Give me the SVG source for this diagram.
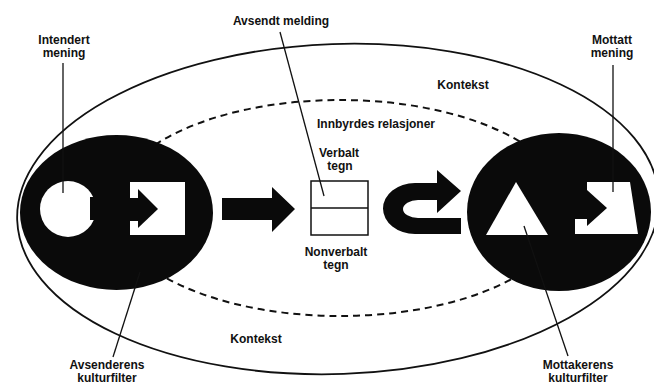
<svg xmlns="http://www.w3.org/2000/svg" width="654" height="387" viewBox="0 0 654 387">
<style>
.t{font-family:"Liberation Sans",Arial,sans-serif;font-weight:bold;font-size:12px;fill:#111;text-anchor:middle}
.ln{stroke:#111;stroke-width:1.3;fill:none}
.blk{fill:#0a0a0a}
.wht{fill:#fff}
</style>
<rect width="654" height="387" fill="#fff"/>
<g id="kontekst">
<ellipse cx="338" cy="209" rx="321" ry="165" fill="none" stroke="#111" stroke-width="1.8" transform="rotate(-2 338 209)"/>
<text class="t" x="463" y="89">Kontekst</text>
<text class="t" x="256" y="343">Kontekst</text>
</g>
<g id="relasjoner">
<ellipse cx="340" cy="208" rx="228" ry="108" fill="none" stroke="#111" stroke-width="2" stroke-dasharray="7 5"/>
<text class="t" x="376" y="128">Innbyrdes relasjoner</text>
</g>
<g id="avsender">
<ellipse class="blk" cx="116.5" cy="212.5" rx="96.5" ry="77.5"/>
<circle class="wht" cx="68" cy="209" r="28"/>
<rect class="blk" x="90" y="197" width="9" height="23"/>
<rect class="wht" x="130" y="182" width="55" height="53"/>
<rect class="blk" x="129" y="198" width="10" height="23"/>
<polygon class="blk" points="138,189 158,209 138,228"/>
</g>
<g id="mottaker">
<ellipse class="blk" cx="559" cy="212" rx="92" ry="79"/>
<polygon class="wht" points="516,182 548,235 486,235"/>
<polygon class="wht" points="587,182 630,182 638,234 575,234 575,219 587,219"/>
<polygon class="blk" points="587,190 607,208 587,226"/>
</g>
<g id="melding">
<rect x="311" y="181" width="57" height="54" fill="#fff" stroke="#111" stroke-width="1.5"/>
<line x1="311" y1="208" x2="368" y2="208" stroke="#111" stroke-width="1.5"/>
<text class="t" x="339" y="157">Verbalt</text>
<text class="t" x="340" y="170">tegn</text>
<text class="t" x="336" y="256">Nonverbalt</text>
<text class="t" x="336" y="269">tegn</text>
</g>
<g id="connectors">
<polygon class="blk" points="222,198 272,198 272,187 295,209 272,232 272,220 222,220"/>
<path class="blk" d="M461,218 L461,234 L415,234 A32,25.5 0 0 1 415,183 L437,183 L437,170 L461,191 L437,213 L437,200 L418,200 A15,9 0 0 0 418,218 Z"/>
<line class="ln" x1="63" y1="63" x2="63" y2="193"/>
<line class="ln" x1="280" y1="32" x2="324" y2="196"/>
<line class="ln" x1="613" y1="65" x2="613" y2="192"/>
<line class="ln" x1="113" y1="357" x2="140" y2="272"/>
<line class="ln" x1="568" y1="356" x2="524" y2="226"/>
</g>
<g id="labels">
<text class="t" x="64" y="44">Intendert</text>
<text class="t" x="64" y="57">mening</text>
<text class="t" x="281" y="25">Avsendt melding</text>
<text class="t" x="612" y="44">Mottatt</text>
<text class="t" x="612" y="57">mening</text>
<text class="t" x="107" y="369">Avsenderens</text>
<text class="t" x="107" y="382">kulturfilter</text>
<text class="t" x="578" y="369">Mottakerens</text>
<text class="t" x="578" y="382">kulturfilter</text>
</g>
</svg>
